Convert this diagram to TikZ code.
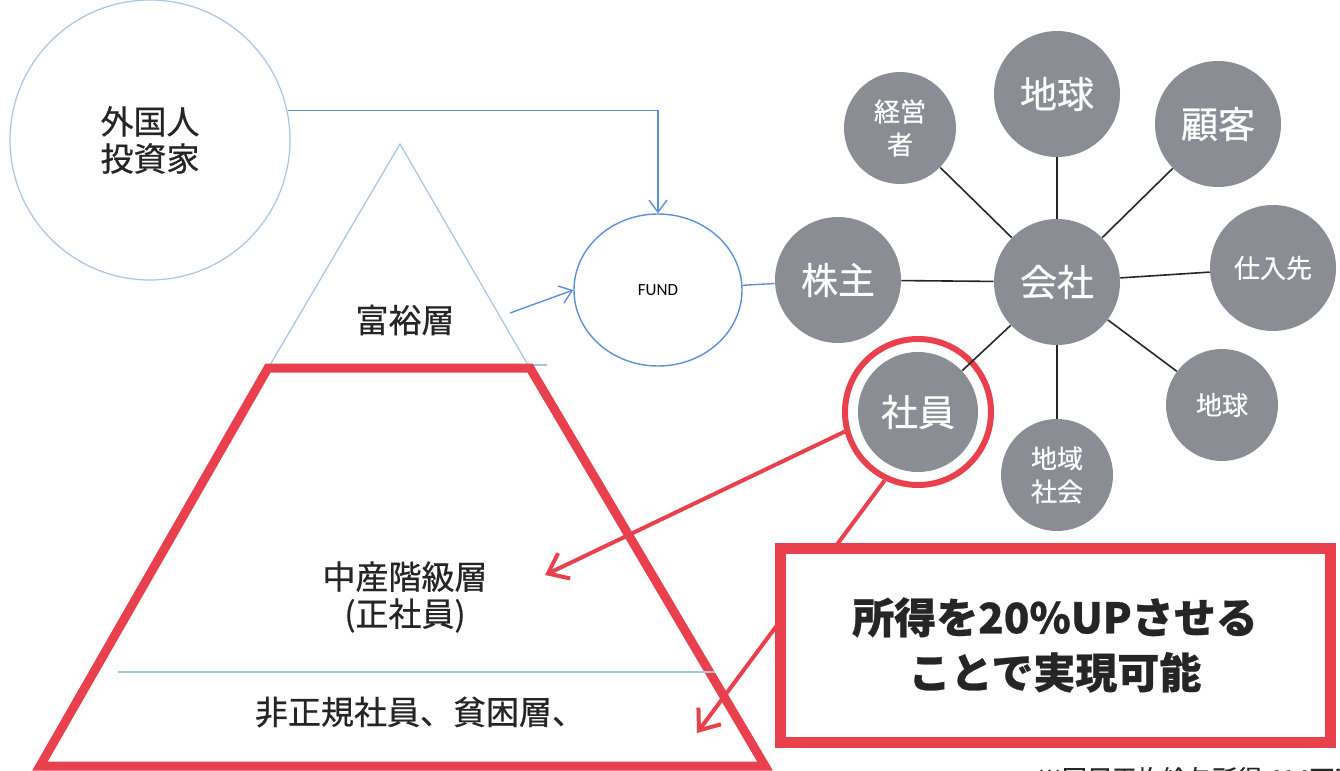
\documentclass[tikz,border=0pt]{standalone}
\usepackage{fontspec}
\setmainfont{Noto Sans CJK JP}[FakeBold=0.6]
\newfontfamily\carl{Carlito}
\usetikzlibrary{arrows.meta,shapes.geometric}
\definecolor{lblue}{HTML}{5B8FD8}
\definecolor{cblue}{HTML}{A9C3E3}
\definecolor{gcirc}{HTML}{8A8D93}
\definecolor{redc}{HTML}{E8404C}
\definecolor{txt}{HTML}{252525}
\begin{document}
\begin{tikzpicture}[x=0.5pt,y=-0.5pt,
  gbig/.style={circle,fill=gcirc,inner sep=0pt,text=white,align=center,minimum size=63pt,font=\fontsize{18.5pt}{21pt}\selectfont},
  gsmall/.style={circle,fill=gcirc,inner sep=0pt,text=white,align=center,minimum size=56pt,font=\fontsize{13pt}{16.5pt}\selectfont},
  spoke/.style={draw=black!85,line width=0.8pt},
  bline/.style={draw=lblue,line width=0.7pt},
  barrow/.style={bline,-{Straight Barb[length=6pt,width=9pt]}},
  rarrow/.style={draw=redc,line width=2pt,-{Straight Barb[length=9pt,width=14pt,line width=2pt]}},
  jtext/.style={text=txt,align=center,font=\fontsize{16.5pt}{18.5pt}\selectfont},
]
\useasboundingbox (0,0) rectangle (1340,771);
% investors circle
\node[circle,draw=cblue,line width=0.6pt,minimum size=140pt,inner sep=0pt,jtext] (gaikoku) at (150,140) {外国人\\投資家};
% triangle (wealthy)
\coordinate (apex) at (400,144);
\coordinate (tl) at (270,365);
\coordinate (tr) at (528,365);
\coordinate (tre) at (547,365);
\draw[draw=cblue,line width=0.6pt] (tl) -- (apex) -- (tr);
\draw[draw=cblue,line width=0.6pt] (tl) -- (tre);
\node[jtext] (furyo) at (405,320) {富裕層};
% FUND
\node[ellipse,draw=lblue,line width=0.7pt,minimum width=84pt,minimum height=76pt,inner sep=0pt,font=\carl\fontsize{8.5pt}{10pt}\selectfont] (fund) at (658,290) {FUND};
\coordinate (fout) at (510,313);
\draw[barrow] (gaikoku.12) -| (fund.north);
\draw[barrow] (fout) -- (fund.west);
% red trapezoid
\draw[draw=redc,line width=4.5pt,line join=miter] (268,368) -- (530,368) -- (765,766) -- (40,766) -- cycle;
\coordinate (ml) at (118,672);
\coordinate (mr) at (715,672);
\draw[draw=cblue,line width=0.7pt] (ml) -- (mr);
\node[jtext] (chusan) at (405,597) {中産階級層\\(正社員)};
\node[jtext] (hisei) at (420,712) {非正規社員、貧困層、};
% stakeholder graph
\node[gbig] (kaisha) at (1057,282) {会社};
\node[gbig] (kabu) at (838,280) {株主};
\node[gbig] (chikyu) at (1057,94) {地球};
\node[gbig] (kokyaku) at (1218,124) {顧客};
\node[gsmall] (keiei) at (900,128) {経営\\者};
\node[gbig,font=\fontsize{13pt}{16pt}\selectfont] (shiire) at (1273,268) {仕入先};
\node[gsmall] (chikyu2) at (1222,405) {地球};
\node[gsmall] (chiiki) at (1057,475) {地域\\社会};
\node[gbig,minimum size=60pt] (shain) at (918,412) {社員};
\node[circle,draw=redc,line width=3pt,minimum size=73pt,inner sep=0pt] (sring) at (918,412) {};
\foreach \n in {kabu,chikyu,kokyaku,keiei,shiire,chikyu2,chiiki,shain}
  \draw[spoke] (kaisha) -- (\n);
\draw[bline] (fund) -- (kabu);
% red arrows
\coordinate (a1) at (545,575);
\coordinate (a2) at (697,733);
\draw[rarrow] (sring.195) -- (a1);
\draw[rarrow] (sring.244) -- (a2);
% result box
\node[draw=redc,fill=white,line width=5.5pt,minimum width=275pt,minimum height=97pt,inner sep=0pt,text=txt,align=center,font=\bfseries\fontsize{21pt}{27.5pt}\selectfont] (box) at (1055,645) {所得を20\%UPさせる\\ことで実現可能};
% footnote, cut off at the lower edge as in the reference
\begin{scope}
\clip (0,0) rectangle (1340,771);
\node[text=txt,anchor=north west,font=\fontsize{12.5pt}{14pt}\selectfont] (note) at (1030,760) {※国民平均給与所得 414万円};
\end{scope}
\end{tikzpicture}
\end{document}
